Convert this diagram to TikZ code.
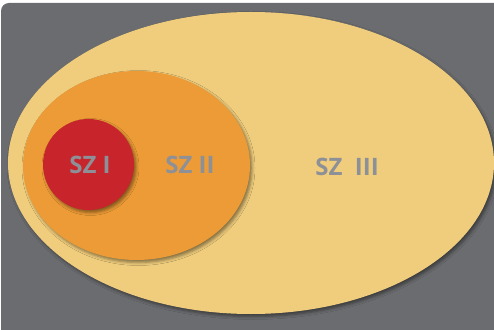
\documentclass[tikz,border=0pt]{standalone}
\usepackage{fontspec}
\setmainfont{Open Sans}
\usetikzlibrary{shadows.blur}
\definecolor{bggray}{HTML}{6B6C6F}
\definecolor{zoneIII}{HTML}{F0CD7C}
\definecolor{zoneII}{HTML}{EC9B36}
\definecolor{zoneI}{HTML}{C8242C}
\definecolor{lblgray}{HTML}{8E9097}
\tikzset{zone/.style={blur shadow={shadow xshift=2pt,shadow yshift=-2.5pt,shadow blur radius=3pt,shadow opacity=45}}}
\begin{document}
\begin{tikzpicture}[x=1pt,y=1pt,line join=round,font=\bfseries\fontsize{24}{24}\selectfont]
	\useasboundingbox (0,0) rectangle (494,329);
	\fill[bggray,rounded corners=8] (1,-12) rectangle (512,326);
	\path (251,166) coordinate (C3)
	(136.5,163.5) coordinate (C2)
	(88.5,164.5) coordinate (C1);
	\fill[zoneIII,zone] (C3) ellipse (243 and 151);
	\fill[zoneII,zone] (C2) ellipse (113.5 and 94.5);
	\fill[zoneI,zone] (C1) circle (45.5);
	\foreach \n/\x/\y/\t in {lblI/90/164/SZ I,lblII/190/164/SZ II,lblIII/347/162/SZ\ \ III
	}{\node[lblgray,inner sep=0pt] (\n) at (\x,\y) {\t};}
\end{tikzpicture}
\end{document}
